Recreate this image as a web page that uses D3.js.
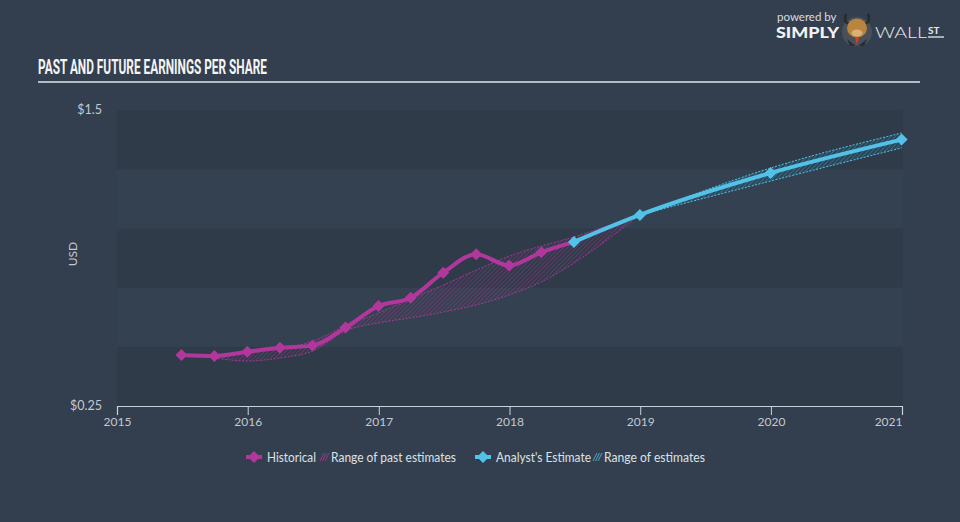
<!DOCTYPE html>
<html><head><meta charset="utf-8">
<script src="https://cdn.jsdelivr.net/npm/d3@7"></script>
<style>html,body{margin:0;padding:0;background:#333f4e;overflow:hidden}</style>
</head><body><svg id="c" width="960" height="522"></svg>
<script>
// ---------- DATA ----------
const histDates = ["2015-06-30","2015-09-30","2015-12-31","2016-03-31","2016-06-30","2016-09-30","2016-12-31","2017-03-31","2017-06-30","2017-09-30","2017-12-31","2018-03-31","2018-06-30"];
const histValues = [0.465,0.461,0.479,0.496,0.505,0.581,0.672,0.707,0.813,0.891,0.843,0.899,0.943];
const estDates = ["2018-06-30","2018-12-31","2019-12-31","2020-12-31"];
const estValues = [0.943,1.057,1.234,1.375];
const pastRangeDates = ["2015-09-30","2015-12-31","2016-03-31","2016-06-30","2016-09-30","2016-12-31","2017-03-31","2017-06-30","2017-09-30","2017-12-31","2018-03-31","2018-06-30","2018-09-30","2018-12-31"];
const pastRangeLow  = [0.453,0.440,0.453,0.482,0.567,0.601,0.622,0.647,0.677,0.719,0.774,0.854,0.951,1.057];
const pastRangeHigh = [0.461,0.474,0.491,0.524,0.588,0.643,0.702,0.761,0.824,0.883,0.926,0.964,1.010,1.057];
const estRangeDates = ["2018-12-31","2019-12-31","2020-12-31"];
const estRangeLow  = [1.057,1.200,1.340];
const estRangeHigh = [1.057,1.255,1.403];
const yTickValues = [0.25,1.5];
const yTickLabels = ["$0.25","$1.5"];
const xTickYears = [2015,2016,2017,2018,2019,2020,2021];
const bandEdges = [0.25,0.5,0.75,1.0,1.25,1.5];
const legendLabels = ["Historical","Range of past estimates","Analyst's Estimate","Range of estimates"];

// ---------- STYLE ----------
const C_HIST = "#b1379c", C_EST = "#52c2e8";
const parse = d3.timeParse("%Y-%m-%d");
const svg = d3.select("#c");
const W = 960, H = 522;

svg.append("rect").attr("width",W).attr("height",H).attr("fill","#333f4e");

const x = d3.scaleTime().domain([new Date(2015,0,1), new Date(2021,0,1)]).range([117,902]);
const y = d3.scaleLinear().domain([0.25,1.5]).range([406,110]);

// bands
const bands = d3.pairs(bandEdges);
svg.append("g").selectAll("rect").data(bands).join("rect")
  .attr("x",117).attr("width",903-117)
  .attr("y",d=>y(d[1])).attr("height",d=>y(d[0])-y(d[1]))
  .attr("fill",(d,i)=> i%2===0 ? "#2f3b49" : "#344150");

// patterns
const defs = svg.append("defs");
function hatch(id,color,op,w){
  const p = defs.append("pattern").attr("id",id).attr("patternUnits","userSpaceOnUse")
    .attr("width",3).attr("height",3).attr("patternTransform","rotate(45)");
  p.append("line").attr("x1",0).attr("y1",0).attr("x2",0).attr("y2",3)
    .attr("stroke",color).attr("stroke-width",w).attr("stroke-opacity",op);
}
hatch("hp",C_HIST,0.75,1);
hatch("he",C_EST,0.6,1);

// past range
const pr = pastRangeDates.map((d,i)=>({d:parse(d),lo:pastRangeLow[i],hi:pastRangeHigh[i]}));
const area = d3.area().x(d=>x(d.d)).y0(d=>y(d.lo)).y1(d=>y(d.hi)).curve(d3.curveMonotoneX);
svg.append("path").datum(pr).attr("d",area).attr("fill","url(#hp)");
const edgeLo = d3.line().x(d=>x(d.d)).y(d=>y(d.lo)).curve(d3.curveMonotoneX);
const edgeHi = d3.line().x(d=>x(d.d)).y(d=>y(d.hi)).curve(d3.curveMonotoneX);
[edgeLo,edgeHi].forEach(f=>svg.append("path").datum(pr).attr("d",f).attr("fill","none")
  .attr("stroke",C_HIST).attr("stroke-width",1).attr("stroke-dasharray","2,1.5").attr("stroke-opacity",0.9));

// future range
const er = estRangeDates.map((d,i)=>({d:parse(d),lo:estRangeLow[i],hi:estRangeHigh[i]}));
svg.append("path").datum(er).attr("d",area).attr("fill","#2a4a5e").attr("fill-opacity",0.6);
svg.append("path").datum(er).attr("d",area).attr("fill","url(#he)");
[edgeLo,edgeHi].forEach(f=>svg.append("path").datum(er).attr("d",f).attr("fill","none")
  .attr("stroke",C_EST).attr("stroke-width",1).attr("stroke-dasharray","2,1.5"));

// lines
const hist = histDates.map((d,i)=>({d:parse(d),v:histValues[i]}));
const est = estDates.map((d,i)=>({d:parse(d),v:estValues[i]}));
const line = d3.line().x(d=>x(d.d)).y(d=>y(d.v)).curve(d3.curveMonotoneX);
svg.append("path").datum(hist).attr("d",line).attr("fill","none").attr("stroke",C_HIST).attr("stroke-width",4).attr("stroke-linejoin","round");
svg.append("path").datum(est).attr("d",line).attr("fill","none").attr("stroke",C_EST).attr("stroke-width",4).attr("stroke-linejoin","round");

const diamond = r => `M0,${-r}L${r},0L0,${r}L${-r},0Z`;
svg.append("g").selectAll("path").data(hist.slice(0,-1)).join("path")
  .attr("d",diamond(6)).attr("transform",d=>`translate(${x(d.d)},${y(d.v)})`).attr("fill",C_HIST);
svg.append("g").selectAll("path").data(est).join("path")
  .attr("d",diamond(6)).attr("transform",d=>`translate(${x(d.d)},${y(d.v)})`).attr("fill",C_EST);

// x axis
const xa = svg.append("g").attr("transform","translate(0,406)")
  .call(d3.axisBottom(x).tickValues(xTickYears.map(yr=>new Date(yr,0,1)))
    .tickFormat(d3.timeFormat("%Y")).tickSize(9).tickSizeOuter(9).tickPadding(2));
xa.select(".domain").attr("stroke","#c9d0d8").attr("stroke-width",1.2);
xa.selectAll(".tick line").attr("stroke","#c9d0d8");
xa.selectAll(".tick text").attr("fill","#c3c9d0").attr("font-family","Lato, sans-serif").attr("font-size",12);
xa.selectAll(".tick text").filter((d,i,n)=>i===n.length-1).attr("text-anchor","end").attr("x",0);

// y labels
svg.append("g").selectAll("text").data(yTickValues).join("text")
  .attr("x",102).attr("y",d=>y(d)).attr("dy","0.35em").attr("text-anchor","end")
  .attr("fill","#c3c9d0").attr("font-family","Lato, sans-serif").attr("font-size",12.5)
  .text((d,i)=>yTickLabels[i]);
svg.append("text").attr("transform","translate(77,254) rotate(-90)").attr("text-anchor","middle")
  .attr("fill","#c3c9d0").attr("font-family","Lato, sans-serif").attr("font-size",12).text("USD");

// title
svg.append("text").attr("x",38).attr("y",74).attr("fill","#f2f4f6")
  .attr("font-family","Roboto, sans-serif").attr("font-weight","bold").attr("font-size",20)
  .attr("textLength",229).attr("lengthAdjust","spacingAndGlyphs")
  .text("PAST AND FUTURE EARNINGS PER SHARE");
svg.append("line").attr("x1",38).attr("x2",920).attr("y1",82).attr("y2",82)
  .attr("stroke","#b4bbc3").attr("stroke-width",2);

// legend
const lg = svg.append("g").attr("font-family","Lato, sans-serif").attr("font-size",12.5).attr("fill","#dde1e6");
function legIcon(cx,color){
  lg.append("line").attr("x1",cx-8).attr("x2",cx+8).attr("y1",457).attr("y2",457).attr("stroke",color).attr("stroke-width",4);
  lg.append("path").attr("d",diamond(6)).attr("transform",`translate(${cx},457)`).attr("fill",color);
}
function legHatch(x0,color){
  for(let k=0;k<3;k++){
    lg.append("line").attr("x1",x0+k*2.5).attr("y1",461).attr("x2",x0+k*2.5+4).attr("y2",453)
      .attr("stroke",color).attr("stroke-width",1).attr("stroke-opacity",0.8);
  }
}
legIcon(254,C_HIST);
lg.append("text").attr("x",267).attr("y",461.5).attr("textLength",49).attr("lengthAdjust","spacingAndGlyphs").text(legendLabels[0]);
legHatch(320,C_HIST);
lg.append("text").attr("x",331).attr("y",461.5).attr("textLength",125).attr("lengthAdjust","spacingAndGlyphs").text(legendLabels[1]);
legIcon(483,C_EST);
lg.append("text").attr("x",496).attr("y",461.5).attr("textLength",95).attr("lengthAdjust","spacingAndGlyphs").text(legendLabels[2]);
legHatch(593,C_EST);
lg.append("text").attr("x",604).attr("y",461.5).attr("textLength",101).attr("lengthAdjust","spacingAndGlyphs").text(legendLabels[3]);

// logo
const lo = svg.append("g");
lo.append("text").attr("x",777).attr("y",21).attr("fill","#d8dce1").attr("font-family","Lato, sans-serif").attr("font-size",11.5).text("powered by");
lo.append("text").attr("x",776).attr("y",38).attr("fill","#f0f2f4").attr("font-family","Lato, sans-serif").attr("font-weight","900").attr("font-size",15.5)
  .attr("textLength",63).attr("lengthAdjust","spacingAndGlyphs").text("SIMPLY");
lo.append("circle").attr("cx",857).attr("cy",32).attr("r",15).attr("fill","#4a5059");
lo.append("path").attr("d","M847,39 L857,47 L867,39 L864,46 L850,46Z").attr("fill","#2a2d33");
lo.append("path").attr("d","M855,38 L857,45 L859,38Z").attr("fill","#d0402a");
lo.append("path").attr("d","M846,14 Q843,22 849,24 M868,14 Q871,22 865,24").attr("stroke","#2a2a2a").attr("stroke-width",2.5).attr("fill","none");
lo.append("ellipse").attr("cx",857).attr("cy",28).attr("rx",10).attr("ry",9.5).attr("fill","#b9853d");
lo.append("ellipse").attr("cx",857).attr("cy",33).attr("rx",5.5).attr("ry",3.5).attr("fill","#d9b07a");
lo.append("text").attr("x",875).attr("y",38).attr("fill","#e8ebee").attr("font-family","Lato, sans-serif").attr("font-weight","300").attr("font-size",15.5)
  .attr("textLength",52).attr("lengthAdjust","spacingAndGlyphs").text("WALL");
lo.append("text").attr("x",928).attr("y",34).attr("fill","#e8ebee").attr("font-family","Lato, sans-serif").attr("font-weight","bold").attr("font-size",10).text("ST");
lo.append("line").attr("x1",928).attr("x2",944).attr("y1",37).attr("y2",37).attr("stroke","#e8ebee").attr("stroke-width",1.3);
</script></body></html>
